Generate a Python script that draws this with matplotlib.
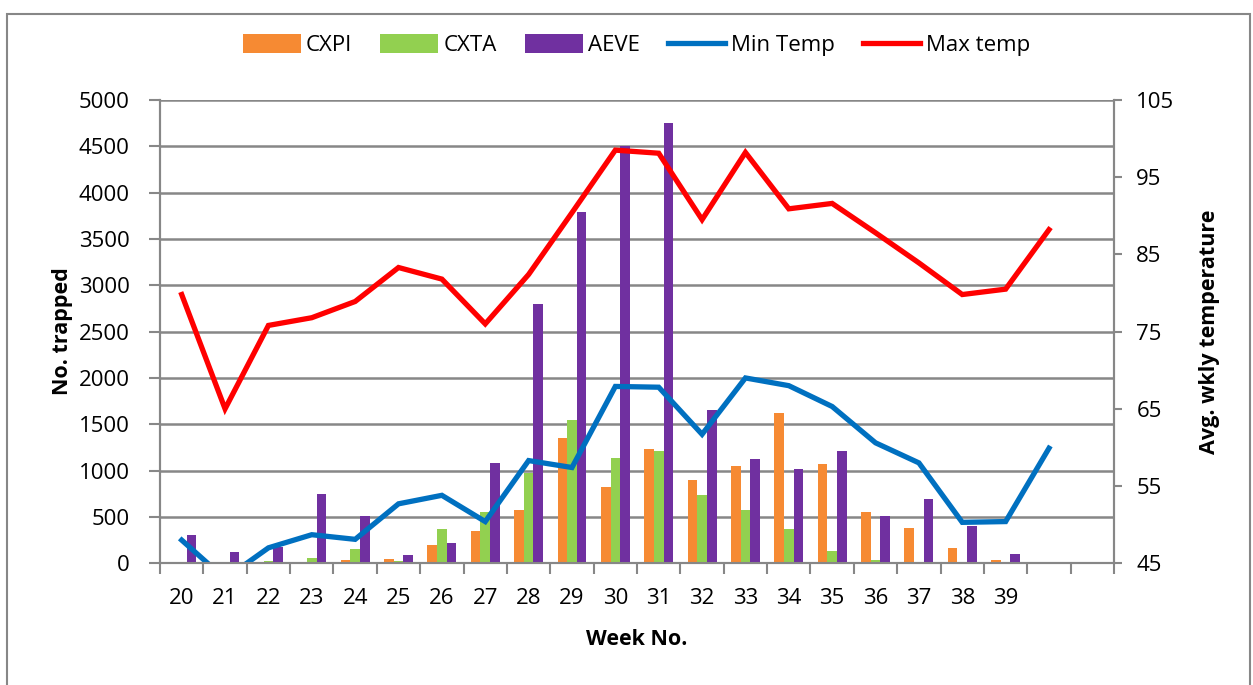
import numpy as np
import matplotlib
matplotlib.use("Agg")
import matplotlib.pyplot as plt
from matplotlib.patches import Rectangle

plt.rcParams['font.family'] = ['Open Sans', 'DejaVu Sans']

weeks = ['20', '21', '22', '23', '24', '25', '26', '27', '28', '29',
         '30', '31', '32', '33', '34', '35', '36', '37', '38', '39', '', '']
cxpi = [0, 0, 0, 5, 40, 50, 200, 350, 580, 1350, 820, 1230, 900, 1050,
        1620, 1075, 550, 380, 160, 35, 0, 0]
cxta = [10, 0, 25, 60, 150, 25, 370, 550, 975, 1550, 1135, 1215, 740, 575,
        375, 130, 30, 10, 0, 0, 0, 0]
aeve = [300, 120, 180, 750, 510, 90, 220, 1080, 2800, 3790, 4500, 4750, 1650,
        1120, 1020, 1215, 510, 690, 400, 100, 0, 0]
min_temp = [48.0, 43.0, 47.0, 48.7, 48.1, 52.7, 53.8, 50.4, 58.3, 57.4, 67.9,
            67.8, 61.7, 69.0, 68.0, 65.3, 60.6, 58.0, 50.3, 50.4, 59.9]
max_temp = [79.8, 65.0, 75.8, 76.8, 78.9, 83.3, 81.8, 76.0, 82.4, 90.4, 98.5,
            98.1, 89.5, 98.2, 90.9, 91.6, 87.8, 83.9, 79.8, 80.5, 88.2]

c_cxpi = '#F68A33'
c_cxta = '#92D050'
c_aeve = '#7030A0'
c_min = '#0070C0'
c_max = '#FF0000'
grey = '#878787'

fig = plt.figure(figsize=(12.53, 6.85), dpi=100)
ax = fig.add_axes([0.1277, 0.1777, 0.7614, 0.6764])
ax2 = ax.twinx()

x = np.arange(len(weeks))
w = 0.222
ax.bar(x - w, cxpi, w, color=c_cxpi, label='CXPI', zorder=3)
ax.bar(x, cxta, w, color=c_cxta, label='CXTA', zorder=3)
ax.bar(x + w, aeve, w, color=c_aeve, label='AEVE', zorder=3)

xt = np.arange(len(min_temp))
ax2.plot(xt, min_temp, color=c_min, lw=3.8, label='Min Temp', solid_joinstyle='miter')
ax2.plot(xt, max_temp, color=c_max, lw=3.8, label='Max temp', solid_joinstyle='miter')

ax.set_xlim(-0.5, len(weeks) - 0.5)
ax.set_ylim(0, 5000)
ax.set_yticks(np.arange(0, 5001, 500))
ax2.set_ylim(45, 105)
ax2.set_yticks(np.arange(45, 106, 10))

ax.yaxis.grid(True, color=grey, lw=1.8, zorder=0)
ax.set_axisbelow(True)

ax.set_xticks(np.arange(-0.5, len(weeks), 1))
ax.set_xticklabels([])
ax.set_xticks(x[:20], minor=True)
ax.set_xticklabels(weeks[:20], minor=True)
ax.tick_params(axis='x', which='major', length=8, width=1.5, color=grey)
ax.tick_params(axis='x', which='minor', length=0, pad=18, labelsize=16)
ax.tick_params(axis='y', length=8, width=1.5, color=grey, labelsize=16, pad=14)
ax2.tick_params(axis='y', length=6, width=1.5, color=grey, labelsize=16, pad=10)

for a in (ax, ax2):
    for s in a.spines.values():
        s.set_color(grey)
        s.set_linewidth(1.5)
    a.spines['top'].set_visible(False)

ax.set_xlabel('Week No.', fontsize=15.5, fontweight='bold', labelpad=14)
ax.set_ylabel('No. trapped', fontsize=15.5, fontweight='bold', labelpad=4)
ax2.set_ylabel('Avg. wkly temperature', fontsize=15.5, fontweight='bold', labelpad=18)

h1, l1 = ax.get_legend_handles_labels()
h2, l2 = ax2.get_legend_handles_labels()
fig.legend(h1 + h2, l1 + l2, loc='center', bbox_to_anchor=(0.508, 0.934), ncol=5,
           frameon=False, fontsize=16, handlelength=2.6, handletextpad=0.25,
           columnspacing=1.25, handleheight=0.9)

fig.patches.append(Rectangle((7 / 1253, -0.01), 1243 / 1253, 1 - 14 / 685 + 0.01,
                             transform=fig.transFigure, fill=False,
                             edgecolor=grey, lw=1.5))

fig.savefig('out.png', dpi=100)
